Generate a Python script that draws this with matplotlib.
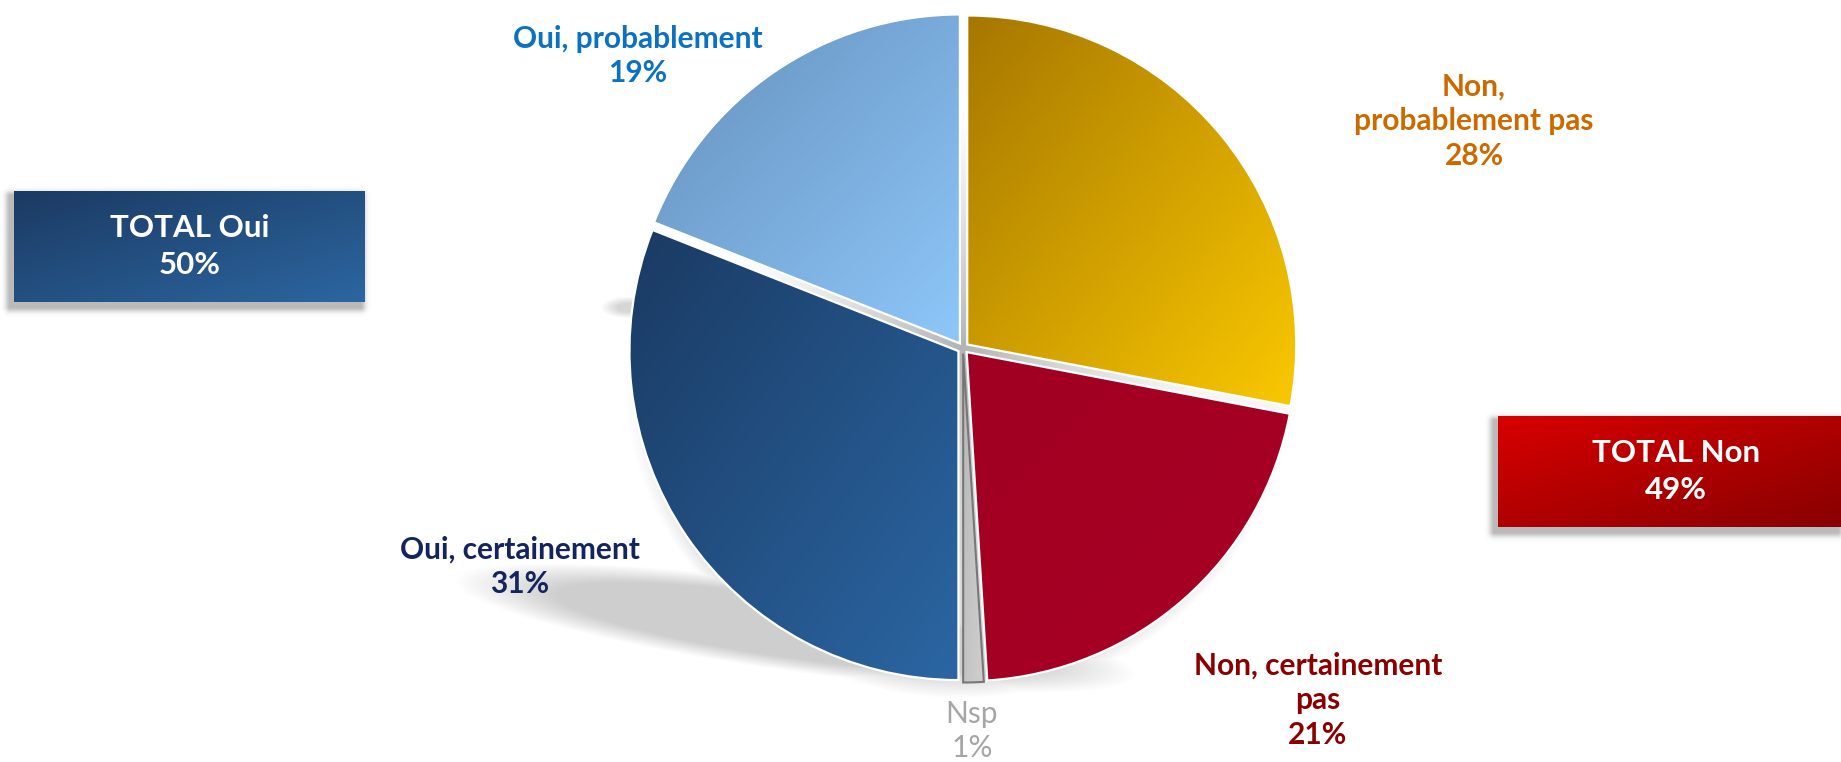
import matplotlib
matplotlib.use("Agg")
import matplotlib.pyplot as plt
import numpy as np
from matplotlib.patches import Rectangle
from matplotlib.colors import to_rgb

plt.rcParams['font.family'] = ['Lato', 'DejaVu Sans']

# data
categories = ["Non,\nprobablement pas", "Non, certainement\npas", "Nsp",
              "Oui, certainement", "Oui, probablement"]
values = [28, 21, 1, 31, 19]
total_labels = ["TOTAL Oui", "TOTAL Non"]
total_values = [50, 49]

# styles
grad_cols = [("#a67700", "#fac800"), ("#a10022", "#a80024"), ("#b8b8b8", "#cfcfcf"),
             ("#1a3a62", "#2b66a3"), ("#6590bb", "#8ec7fa")]
text_cols = ["#cc6a00", "#8b0000", "#a6a6a6", "#13245e", "#0b72c1"]
label_pos = [(1474, 121), (1318, 700), (972, 731), (520, 567), (638, 56)]

W, H = 1841, 762
fig = plt.figure(figsize=(W / 100, H / 100), dpi=100)
ax = fig.add_axes([0, 0, 1, 1])


def gradient(x0, x1, y0, y1, c1, c2, clip, z):
    xx, yy = np.meshgrid(np.linspace(0, 1, 200), np.linspace(0, 1, 200))
    t = (xx + (1 - yy)) / 2
    a, b = np.array(to_rgb(c1)), np.array(to_rgb(c2))
    img = a[None, None, :] * (1 - t[..., None]) + b[None, None, :] * t[..., None]
    im = ax.imshow(img, extent=[x0, x1, y0, y1], origin='lower', aspect='auto', zorder=z)
    im.set_clip_path(clip)


def soft_shadow(x0, x1, y0, y1, alpha_fn, z, grey=0.55):
    X, Y = np.meshgrid(np.linspace(x0, x1, 500), np.linspace(y0, y1, 400))
    A = alpha_fn(X, Y)
    img = np.zeros(A.shape + (4,))
    img[..., :3] = grey
    img[..., 3] = np.clip(A, 0, 1)
    ax.imshow(img, extent=[x0, x1, y0, y1], origin='lower', aspect='auto', zorder=z)


cx, cy, R = 963, 348, 329
pcy = H - cy


def floor_shadow(X, Y):
    # thin perspective shadow on the lower left
    ex, ey = 795, H - 628
    th = np.deg2rad(-8)
    u = (X - ex) * np.cos(th) + (Y - ey) * np.sin(th)
    v = -(X - ex) * np.sin(th) + (Y - ey) * np.cos(th)
    d = np.sqrt((u / 345) ** 2 + (v / 44) ** 2)
    a = np.clip((1.0 - d) / 0.3, 0, 1) * 0.42
    # soft rim under the lower half of the pie
    r = np.hypot(X - (cx - 4), Y - (pcy - 12))
    a2 = np.clip((R + 10 - r) / 22, 0, 1) * 0.32 * np.clip((pcy - Y) / 200, 0, 1)
    # small smudge on the left
    d3 = np.sqrt(((X - 628) / 28) ** 2 + ((Y - (H - 307)) / 11) ** 2)
    a3 = np.clip((1 - d3) / 0.6, 0, 1) * 0.35
    return np.maximum(np.maximum(a, a2), a3)


soft_shadow(380, 1320, H - 720, H - 270, floor_shadow, 1)


def gap_shade(X, Y):
    r = np.hypot(X - cx, Y - pcy)
    return np.clip(1 - r / (R * 0.75), 0, 1) ** 1.3 * 0.75


soft_shadow(cx - R, cx + R, pcy - R, pcy + R, gap_shade, 1.5, grey=0.6)

# explode is in data units (pixels here)
wedges, _ = ax.pie(values, startangle=90, counterclock=False, center=(cx, pcy),
                   radius=R, explode=[5.5] * len(values), frame=True,
                   colors=[c[1] for c in grad_cols],
                   wedgeprops=dict(edgecolor='white', linewidth=1.6))

for i, w in enumerate(wedges):
    th = np.linspace(np.deg2rad(w.theta1), np.deg2rad(w.theta2), 60)
    px = np.r_[w.center[0], w.center[0] + w.r * np.cos(th)]
    py = np.r_[w.center[1], w.center[1] + w.r * np.sin(th)]
    gradient(px.min(), px.max(), py.min(), py.max(), grad_cols[i][0], grad_cols[i][1], w, 3)
    w.set_facecolor('none')
    w.set_zorder(4)
    if categories[i] == "Nsp":
        w.set_edgecolor('#777777')
        w.set_linewidth(1.5)

for i, (lab, v) in enumerate(zip(categories, values)):
    x, y = label_pos[i]
    ax.text(x, H - y, f"{lab}\n{v}%", ha='center', va='center', fontsize=21.5,
            fontweight='normal' if lab == "Nsp" else 'bold', color=text_cols[i],
            linespacing=1.3, zorder=6)

# total boxes
boxes = [(14, 191, 351, 111, "#1b3a62", "#2c66a1", 190),
         (1498, 416, 343, 111, "#d80000", "#880000", 1676)]
for (bx, by, bw, bh, c1, c2, tx), lab, v in zip(boxes, total_labels, total_values):
    y0 = H - by - bh

    def rect_shadow(X, Y, bx=bx, y0=y0, bw=bw, bh=bh):
        sx, sy = bx + bw / 2 - 4, y0 + bh / 2 - 5
        dx = np.maximum(np.abs(X - sx) - bw / 2, 0)
        dy = np.maximum(np.abs(Y - sy) - bh / 2, 0)
        return np.exp(-(np.hypot(dx, dy) / 5) ** 2) * 0.6
    soft_shadow(bx - 25, bx + bw + 15, y0 - 25, y0 + bh + 15, rect_shadow, 5)
    r = Rectangle((bx, y0), bw, bh, facecolor='none', edgecolor='none', zorder=6)
    ax.add_patch(r)
    gradient(bx, bx + bw, y0, y0 + bh, c1, c2, r, 6)
    ax.text(tx, y0 + bh / 2, f"{lab}\n{v}%", ha='center', va='center', fontsize=22.5,
            fontweight='bold', color='white', linespacing=1.4, zorder=7)

ax.set_xlim(0, W)
ax.set_ylim(0, H)
ax.set_aspect('equal')
ax.axis('off')
fig.savefig("out.png", dpi=100)
